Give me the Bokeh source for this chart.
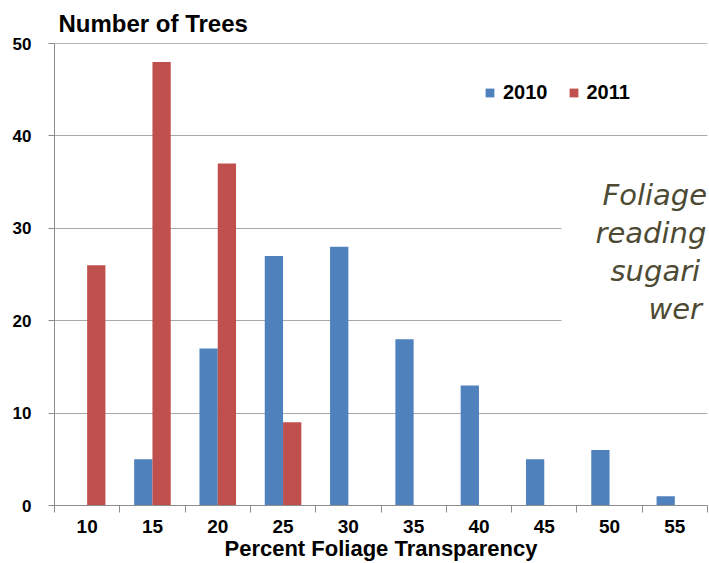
from bokeh.plotting import figure
from bokeh.models import FixedTicker, Legend, LegendItem, Span, Range1d, ColumnDataSource
from bokeh.core.properties import value
from bokeh.transform import dodge
from bokeh.embed import file_html
from bokeh.resources import INLINE

# ---- data ----
categories = ["10", "15", "20", "25", "30", "35", "40", "45", "50", "55"]
trees_2010 = [0, 5, 17, 27, 28, 18, 13, 5, 6, 1]
trees_2011 = [26, 48, 37, 9, 0, 0, 0, 0, 0, 0]
y_ticks = [0, 10, 20, 30, 40, 50]
note_lines = ["Foliage", "reading", "sugari", "wer"]

# ---- layout helpers (canvas pixel coordinates) ----
W, H = 709, 563
FRAME_L, FRAME_R, FRAME_T, FRAME_B = 54, 707, 43, 506
X0, X1, Y0, Y1 = 0.5, 10.5, 0, 50


def px2x(px):
    return X0 + (px - FRAME_L) * (X1 - X0) / (FRAME_R - FRAME_L)


def py2y(py):
    return Y0 + (FRAME_B - py) * (Y1 - Y0) / (FRAME_B - FRAME_T)


FONT = "Liberation Sans"
BLUE = "#4F81BD"
RED = "#C0504D"
AXIS_GRAY = "#8c8c8c"

xs = list(range(1, len(categories) + 1))
src = ColumnDataSource(dict(x=xs, cat=categories, y2010=trees_2010, y2011=trees_2011))

p = figure(width=W, height=H, output_backend="svg", toolbar_location=None,
           x_range=Range1d(X0, X1), y_range=Range1d(Y0, Y1),
           min_border_left=FRAME_L, min_border_right=W - FRAME_R,
           min_border_top=FRAME_T, min_border_bottom=H - FRAME_B,
           background_fill_color="white", border_fill_color="white",
           outline_line_color=None)

# title
p.title.text = "Number of Trees"
p.title.text_font = FONT
p.title.text_font_size = "24px"
p.title.text_font_style = "bold"
p.title.text_color = "black"
p.title.align = "left"
p.title.offset = 4
p.title.standoff = 13

# white box behind the overlaid note (hides part of the gridlines)
p.quad(left=[px2x(561)], right=[px2x(760)], bottom=[py2y(360)], top=[py2y(140)],
       fill_color="white", line_color=None)

# bars
bw = 0.28
r2010 = p.vbar(x=dodge("x", -bw / 2), top="y2010", width=bw, source=src,
               fill_color=BLUE, line_color=None)
r2011 = p.vbar(x=dodge("x", bw / 2), top="y2011", width=bw, source=src,
               fill_color=RED, line_color=None)

# top border line at 50
p.add_layout(Span(location=50, dimension="width", line_color="#6e6e6e", line_width=1))

# x axis
xa = p.xaxis[0]
xa.ticker = FixedTicker(ticks=xs, minor_ticks=[i + 0.5 for i in range(0, len(categories) + 1)])
xa.major_label_overrides = {x: c for x, c in zip(xs, categories)}
xa.major_tick_out = 0
xa.major_tick_in = 0
xa.minor_tick_out = 7
xa.minor_tick_in = 0
xa.minor_tick_line_color = AXIS_GRAY
xa.axis_line_color = AXIS_GRAY
xa.major_label_text_font = FONT
xa.major_label_text_font_size = "19px"
xa.major_label_text_font_style = "bold"
xa.major_label_text_color = "black"
xa.major_label_standoff = 7
xa.axis_label = "Percent Foliage Transparency"
xa.axis_label_text_font = FONT
xa.axis_label_text_font_size = "22px"
xa.axis_label_text_font_style = "bold"
xa.axis_label_text_color = "black"
xa.axis_label_standoff = 0

# y axis
ya = p.yaxis[0]
ya.ticker = FixedTicker(ticks=y_ticks)
ya.major_tick_out = 6
ya.major_tick_in = 0
ya.major_tick_line_color = AXIS_GRAY
ya.minor_tick_line_color = None
ya.axis_line_color = AXIS_GRAY
ya.major_label_text_font = FONT
ya.major_label_text_font_size = "17px"
ya.major_label_text_font_style = "bold"
ya.major_label_text_color = "black"
ya.major_label_standoff = 17

# grid
p.xgrid.visible = False
p.ygrid.ticker = FixedTicker(ticks=y_ticks[1:-1])
p.ygrid.grid_line_color = "#a8a8a8"
p.ygrid.grid_line_width = 1

# overlaid note text (partially visible)
note_x = [px2x(602), px2x(595), px2x(610), px2x(648)]
note_y = [py2y(195), py2y(233), py2y(271), py2y(309)]
p.text(x=note_x, y=note_y, text=note_lines, text_font=value("DejaVu Sans"),
       text_font_style="italic", text_font_size="29px", text_color="#4d4a33",
       text_baseline="alphabetic", text_align="left")

# legend
legend = Legend(items=[LegendItem(label="2010", renderers=[r2010]),
                       LegendItem(label="2011", renderers=[r2011])],
                location=(484 - FRAME_L, FRAME_B - 105), orientation="horizontal",
                glyph_width=11, glyph_height=11, label_standoff=8, spacing=20,
                padding=0, margin=0, border_line_color=None, background_fill_alpha=0,
                label_text_font=FONT, label_text_font_size="20px",
                label_text_font_style="bold", label_text_color="black")
p.add_layout(legend)

open("out.html", "w").write(file_html(p, INLINE))
